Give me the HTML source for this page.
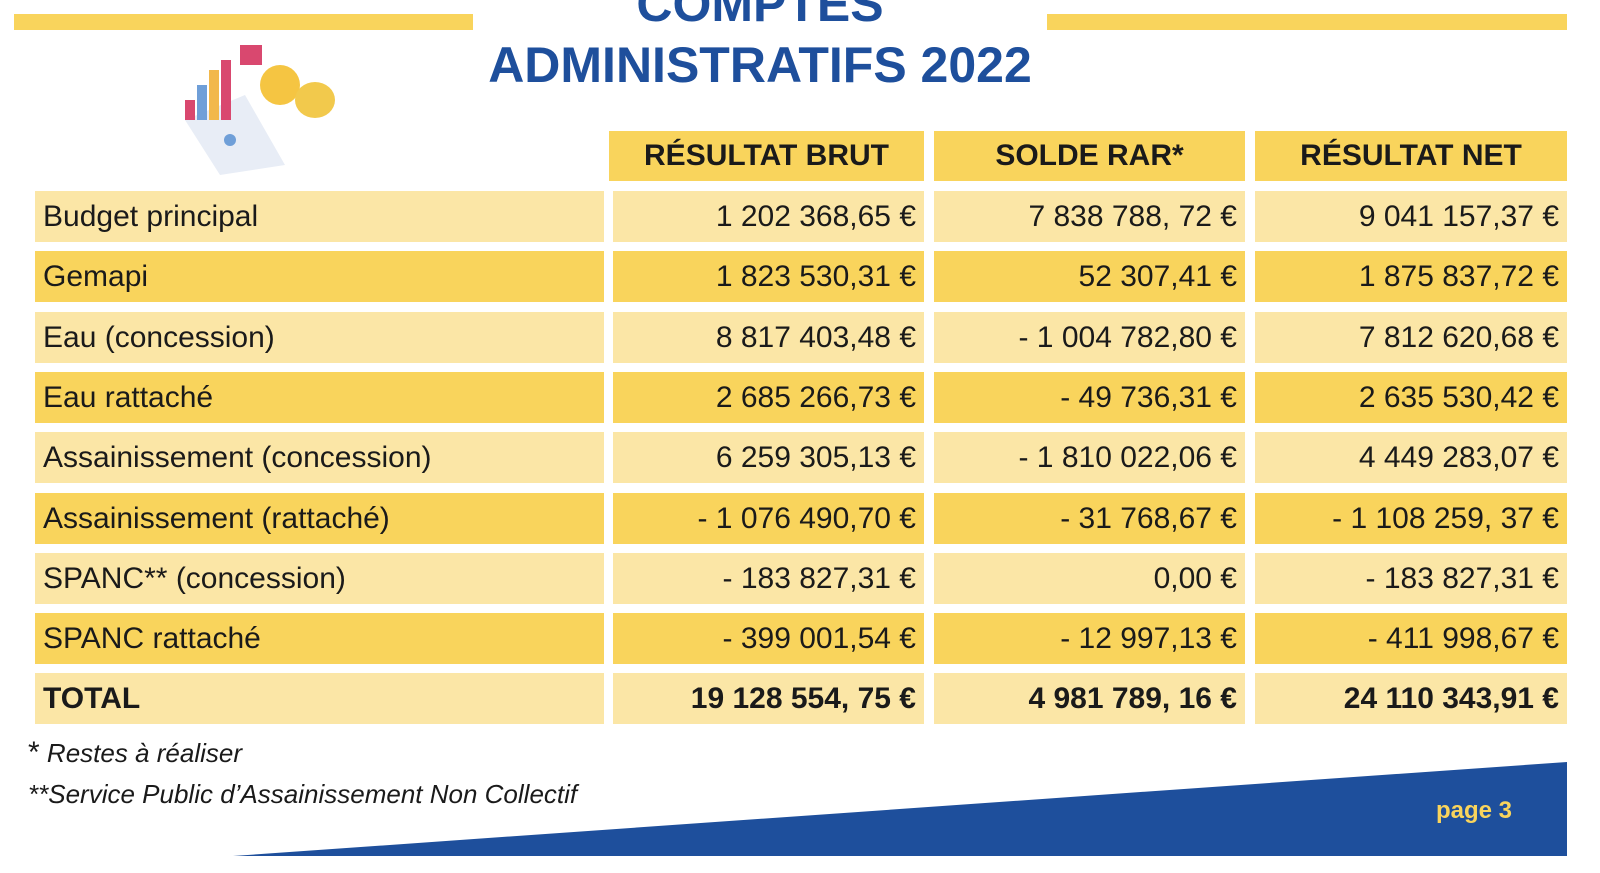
<!DOCTYPE html>
<html><head><meta charset="utf-8"><style>
*{margin:0;padding:0;box-sizing:border-box}
body{width:1600px;height:873px;background:#fff;position:relative;overflow:hidden;font-family:"Liberation Sans",sans-serif;color:#1a1a1a}
.bar{position:absolute;top:14px;height:16px;background:#f9d45c}
.title{position:absolute;left:443px;width:634px;text-align:center;color:#1e4f9c;font-weight:bold;font-size:50px;letter-spacing:0px}
.c{position:absolute;height:51px;font-size:30px;line-height:51px;padding:0 8px}
.l{background:#fbe6a6}.d{background:#f9d45c}
.r{text-align:right}
.h{font-weight:bold;text-align:center;font-size:30px}
.fn{position:absolute;left:28px;font-style:italic;font-size:26px}
</style></head><body>
<div class="bar" style="left:14px;width:459px"></div>
<div class="bar" style="left:1047px;width:520px"></div>
<div class="title" style="top:-25px">COMPTES</div>
<div class="title" style="top:36px">ADMINISTRATIFS 2022</div>
<svg style="position:absolute;left:155px;top:40px" width="185" height="140">
<polygon points="30,80 90,55 130,125 65,135" fill="#e8edf6"/>
<rect x="30" y="60" width="10" height="20" fill="#d9486f"/>
<rect x="42" y="45" width="10" height="35" fill="#6f9fd8"/>
<rect x="54" y="30" width="10" height="50" fill="#f2b84b"/>
<rect x="66" y="20" width="10" height="60" fill="#d9486f"/>
<rect x="85" y="5" width="22" height="20" fill="#d9486f"/>
<circle cx="125" cy="45" r="20" fill="#f5c542"/><ellipse cx="160" cy="60" rx="20" ry="18" fill="#f2c94c"/>
<circle cx="75" cy="100" r="6" fill="#6f9fd8"/>
</svg>
<div class="c d h" style="left:609px;top:131px;width:315px;height:50px;line-height:50px">RÉSULTAT BRUT</div>
<div class="c d h" style="left:934px;top:131px;width:311px;height:50px;line-height:50px">SOLDE RAR*</div>
<div class="c d h" style="left:1255px;top:131px;width:312px;height:50px;line-height:50px">RÉSULTAT NET</div>
<div id="rows"></div>
<div class="fn" style="top:736px"><span style="font-style:normal;font-size:30px">*</span> Restes à réaliser</div>
<div class="fn" style="top:779px">**Service Public d’Assainissement Non Collectif</div>
<svg style="position:absolute;left:0;top:0" width="1600" height="873"><polygon points="233,856 1567,762 1567,856" fill="#1e4f9c"/></svg>
<div style="position:absolute;left:1436px;top:797px;color:#f9d45c;font-weight:bold;font-size:24px">page 3</div>
<script>
var d=[["Budget principal","1 202 368,65 €","7 838 788, 72 €","9 041 157,37 €"],
["Gemapi","1 823 530,31 €","52 307,41 €","1 875 837,72 €"],
["Eau (concession)","8 817 403,48 €","- 1 004 782,80 €","7 812 620,68 €"],
["Eau rattaché","2 685 266,73 €","- 49 736,31 €","2 635 530,42 €"],
["Assainissement (concession)","6 259 305,13 €","- 1 810 022,06 €","4 449 283,07 €"],
["Assainissement (rattaché)","- 1 076 490,70 €","- 31 768,67 €","- 1 108 259, 37 €"],
["SPANC** (concession)","- 183 827,31 €","0,00 €","- 183 827,31 €"],
["SPANC rattaché","- 399 001,54 €","- 12 997,13 €","- 411 998,67 €"],
["TOTAL","19 128 554, 75 €","4 981 789, 16 €","24 110 343,91 €"]];
var xs=[[35,569],[613,311],[934,311],[1255,312]],h="";
d.forEach(function(r,i){var y=191+i*60.3,cl=(i%2==0)?"l":"d",b=i==8?"font-weight:bold;":"";
r.forEach(function(t,j){h+='<div class="c '+cl+(j?' r':'')+'" style="'+b+'left:'+xs[j][0]+'px;top:'+y+'px;width:'+xs[j][1]+'px">'+t+'</div>';});});
document.getElementById("rows").innerHTML=h;
</script>
</body></html>
